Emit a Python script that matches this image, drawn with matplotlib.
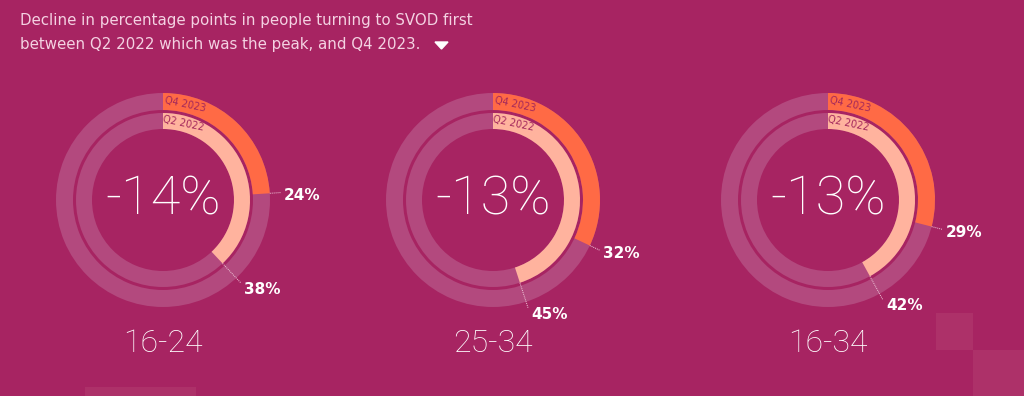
import matplotlib
matplotlib.use("Agg")
import matplotlib.pyplot as plt
import numpy as np
from matplotlib.patches import Wedge, Rectangle, Polygon

groups = ["16-24", "25-34", "16-34"]
q2_2022 = [38, 45, 42]
q4_2023 = [24, 32, 29]
decline = [-14, -13, -13]
ring_names = ["Q4 2023", "Q2 2022"]

bg = "#a72462"
track = "#b3497e"
orange = "#ff6a45"
peach = "#ffb39e"
label_dark = "#a3275c"

fig = plt.figure(figsize=(10.24, 3.96), dpi=100, facecolor=bg)
ax = fig.add_axes([0, 0, 1, 1])
ax.set_facecolor(bg)
ax.set_xlim(0, 1024)
ax.set_ylim(396, 0)
ax.set_aspect("equal")
ax.axis("off")

# title
ax.text(20, 20, "Decline in percentage points in people turning to SVOD first",
        color="#f4d2e2", fontsize=10.8, family="DejaVu Sans", va="center", ha="left")
ax.text(20, 45, "between Q2 2022 which was the peak, and Q4 2023.",
        color="#f4d2e2", fontsize=10.8, family="DejaVu Sans", va="center", ha="left")
ax.add_patch(Polygon([[435, 42], [448, 42], [441.5, 49]], closed=True, color="white"))

# decoration squares
ax.add_patch(Rectangle((85, 387), 111, 12, color="#ad3169", lw=0))
ax.add_patch(Rectangle((936, 313), 37, 37, color="#ad3169", lw=0))
ax.add_patch(Rectangle((973, 350), 51, 46, color="#ad3169", lw=0))

centers_x = [163, 493, 828]
cy = 200
r_out, w_out = 107, 17
r_in, w_in = 87, 16

for i, cx in enumerate(centers_x):
    # tracks
    ax.add_patch(Wedge((cx, cy), r_out, 0, 360, width=w_out, color=track, lw=0))
    ax.add_patch(Wedge((cx, cy), r_in, 0, 360, width=w_in, color=track, lw=0))
    # values (clockwise from top on screen; y axis is inverted)
    a_out = 360 * q4_2023[i] / 100
    a_in = 360 * q2_2022[i] / 100
    ax.add_patch(Wedge((cx, cy), r_out, -90, -90 + a_out, width=w_out, color=orange, lw=0))
    ax.add_patch(Wedge((cx, cy), r_in, -90, -90 + a_in, width=w_in, color=peach, lw=0))

    # ring names along arcs
    for r, w, name in [(r_out, w_out, ring_names[0]), (r_in, w_in, ring_names[1])]:
        rm = r - w / 2
        ang = np.radians(15 if r == r_in else 13)
        tx = cx + rm * np.sin(ang)
        ty = cy - rm * np.cos(ang)
        ax.text(tx, ty, name, color=label_dark, fontsize=7, fontweight="medium",
                family="DejaVu Sans", rotation=-12, ha="center", va="center",
                rotation_mode="anchor")

    # outer value label
    t = np.radians(a_out)
    x0, y0 = cx + r_out * np.sin(t), cy - r_out * np.cos(t)
    x1, y1 = cx + (r_out + 11) * np.sin(t), cy - (r_out + 11) * np.cos(t)
    ax.plot([x0, x1], [y0, y1], color="#f0c8da", lw=0.7, ls=(0, (1, 1)))
    ax.text(x1 + 3, y1 + 3, f"{q4_2023[i]}%", color="white", fontsize=11,
            fontweight="bold", ha="left", va="center")

    # inner value label
    t = np.radians(a_in)
    x0, y0 = cx + r_in * np.sin(t), cy - r_in * np.cos(t)
    x1, y1 = cx + 114 * np.sin(t), cy - 114 * np.cos(t)
    ax.plot([x0, x1], [y0, y1], color="#f0c8da", lw=0.7, ls=(0, (1, 1)))
    ax.text(x1 + 3, y1 + 6, f"{q2_2022[i]}%", color="white", fontsize=11,
            fontweight="bold", ha="left", va="center")

    # center figure and group label
    ax.text(cx, cy, f"-{abs(decline[i])}%", color="white", fontsize=39,
            family="Roboto", fontweight="light", ha="center", va="center")
    ax.text(cx, 344, groups[i], color="white", fontsize=23,
            family="Roboto", fontweight="light", ha="center", va="center")

fig.savefig("out.png", dpi=100, facecolor=bg)
